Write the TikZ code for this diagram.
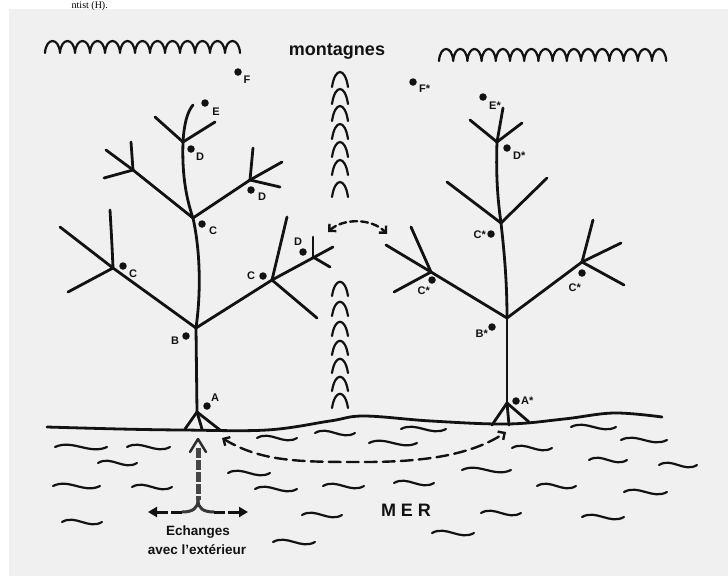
\documentclass[tikz,border=0pt]{standalone}
\usepackage{fontspec}
\setmainfont{Liberation Serif}
\setsansfont{Liberation Sans}
\usetikzlibrary{arrows.meta}
\definecolor{paper}{RGB}{240,240,240}
\definecolor{ink}{RGB}{18,18,18}
\tikzset{
  br/.style={ink, line width=2.8pt, line cap=round, line join=round},
  wav/.style={ink, line width=2.2pt, line cap=round},
  mtn/.style={ink, line width=2.2pt, line cap=round, line join=round},
  pt/.style={circle, fill=ink, inner sep=0pt, minimum size=7.5pt},
  lab/.style={ink, font=\sffamily\bfseries\fontsize{11}{12}\selectfont, inner sep=0pt},
  big/.style={ink, font=\sffamily\bfseries\fontsize{13.5}{15}\selectfont, inner sep=0pt},
  dasharrow/.style={ink, line width=2.4pt, line cap=round,
     {Straight Barb[length=5pt,width=10pt,line width=2.4pt]}-{Straight Barb[length=5pt,width=10pt,line width=2.4pt]}}
}
\begin{document}
\begin{tikzpicture}[x=1pt,y=-1pt]
\useasboundingbox (0,0) rectangle (728,576);
\clip (0,0) rectangle (728,576);
\fill[white] (0,0) rectangle (728,576);
\fill[paper] (9,9) rectangle (728,576);
\node[anchor=base east, font=\fontsize{10}{11}\selectfont, inner sep=0pt] (cut) at (108,8.5) {ntist (H).};

% mountain ranges
\draw[mtn] (45,53) \foreach \i in {1,...,13}{ .. controls +(1,-16) and +(-1,-16) .. ++(15,0)};
\draw[mtn] (439,61) \foreach \i in {1,...,16}{ .. controls +(1,-16) and +(-1,-16) .. ++(14.2,0)};
\node[ink, font=\sffamily\bfseries\fontsize{18}{20}\selectfont, inner sep=0pt] (mont) at (337,52) {montagnes};
\foreach \t in {70,87,104,122,140,158,180}
  \draw[mtn] (332,\t+17) .. controls (335,\t-3) and (345,\t-3) .. (348,\t+17);
\foreach \t in {280,300,320,339,357,375,392}
  \draw[mtn] (332,\t+16) .. controls (335,\t-3) and (345,\t-3) .. (348,\t+16);

% ground
\draw[br] plot[smooth, tension=0.6] coordinates {(47,427) (120,429) (183,430) (267,430) (330,421) (364,416) (431,421) (507,424) (564,419) (614,413) (662,417)};

% sea waves
\foreach \a/\b/\y in {55/107/447, 127/170/447, 98/137/463, 53/100/486, 132/172/487, 62/102/522,
  257/297/438, 315/355/433, 228/270/473, 255/297/489, 323/364/486, 302/342/515, 273/315/542,
  401/446/429, 369/417/443, 512/552/448, 571/616/427, 621/667/440, 589/627/460, 659/697/465,
  462/511/470, 394/434/483, 537/576/486, 624/667/492, 481/521/513, 582/624/517, 432/474/533}
  \draw[wav] (\a,\y) .. controls +({(\b-\a)/3},-8) and +({-(\b-\a)/3},8) .. (\b,\y);

% left tree
\draw[br] (197,412) -- (185,429);
\draw[br] (197,412) -- (202,429);
\draw[br] (197,412) -- (220,430);
\draw[br] (197,412) -- (196,328);
\draw[br] (196,328) .. controls (202,285) and (199,245) .. (193,218);
\draw[br] (193,218) .. controls (185,195) and (182,170) .. (183,142);
\draw[br] (183,142) .. controls (184,125) and (187,112) .. (193,105);
\draw[br] (183,142) -- (155,117);
\draw[br] (183,142) -- (215,122);
\draw[br] (196,328) -- (113,268);
\draw[br] (113,268) -- (60,227);
\draw[br] (113,268) .. controls (112,245) .. (110,210);
\draw[br] (113,268) -- (68,292);
\draw[br] (196,328) -- (272,280);
\draw[br] (272,280) -- (287,217);
\draw[br] (272,280) -- (317,318);
\draw[br] (272,280) -- (333,247);
\draw[br] (313,257) -- (313,237);
\draw[br] (313,257) -- (330,267);
\draw[br] (193,218) -- (133,170);
\draw[br] (133,170) -- (106,150);
\draw[br] (133,170) -- (131,142);
\draw[br] (133,170) -- (104,178);
\draw[br] (193,218) -- (250,180);
\draw[br] (250,180) -- (253,148);
\draw[br] (250,180) -- (282,162);
\draw[br] (250,180) -- (280,187);

% right tree
\draw[br] (507,403) -- (492,425);
\draw[br] (507,403) -- (509,425);
\draw[br] (507,403) -- (529,422);
\draw[br] (507,403) -- (507,318);
\draw[br] (507,318) .. controls (507,280) and (504,250) .. (501,223);
\draw[br] (501,223) .. controls (497,195) and (496,170) .. (497,142);
\draw[br] (497,142) -- (503,108);
\draw[br] (497,142) -- (470,120);
\draw[br] (497,142) -- (522,123);
\draw[br] (501,223) -- (447,182);
\draw[br] (501,223) -- (547,178);
\draw[br] (507,318) -- (431,272);
\draw[br] (431,272) -- (386,245);
\draw[br] (431,272) -- (411,227);
\draw[br] (431,272) -- (394,292);
\draw[br] (507,318) -- (582,262);
\draw[br] (582,262) -- (593,220);
\draw[br] (582,262) -- (621,243);
\draw[br] (582,262) -- (624,285);

% left labels
\node[pt] (pF) at (238,72) {};   \node[lab] (lF) at (247,80) {F};
\node[pt] (pE) at (205,103) {};  \node[lab] (lE) at (216,112) {E};
\node[pt] (pD1) at (191,149) {}; \node[lab] (lD1) at (200,157) {D};
\node[pt] (pD2) at (251,190) {}; \node[lab] (lD2) at (262,197) {D};
\node[pt] (pC1) at (202,224) {}; \node[lab] (lC1) at (213,231) {C};
\node[pt] (pC2) at (123,266) {}; \node[lab] (lC2) at (133,274) {C};
\node[pt] (pC3) at (263,276) {}; \node[lab] (lC3) at (251,276) {C};
\node[pt] (pD3) at (303,252) {}; \node[lab] (lD3) at (298,242) {D};
\node[pt] (pB) at (186,336) {};  \node[lab] (lB) at (175,341) {B};
\node[pt] (pA) at (207,406) {};  \node[lab] (lA) at (215,398) {A};

% right labels
\node[pt] (qF) at (413,82) {};   \node[lab, anchor=west] (mF) at (419,89) {F*};
\node[pt] (qE) at (483,97) {};   \node[lab, anchor=west] (mE) at (489,106) {E*};
\node[pt] (qD) at (507,148) {};  \node[lab, anchor=west] (mD) at (513,156) {D*};
\node[pt] (qC1) at (491,234) {}; \node[lab, anchor=east] (mC1) at (486,235) {C*};
\node[pt] (qC2) at (432,280) {}; \node[lab, anchor=east] (mC2) at (430,291) {C*};
\node[pt] (qC3) at (582,273) {}; \node[lab, anchor=east] (mC3) at (581,288) {C*};
\node[pt] (qB) at (492,327) {};  \node[lab, anchor=east] (mB) at (488,334) {B*};
\node[pt] (qA) at (516,401) {};  \node[lab, anchor=west] (mA) at (521,401) {A*};

% central double arrow
\coordinate (midL) at (328,232);
\coordinate (midR) at (387,234);
\draw[dasharrow, dash pattern=on 7pt off 4pt] (midL) .. controls (343,218) and (372,218) .. (midR);

% long dashed arrow in the sea
\coordinate (bigL) at (222,438);
\coordinate (bigR) at (506,432);
\draw[dasharrow, dash pattern=on 12pt off 6pt] (bigL) .. controls (262,462) and (300,462) .. (364,462) .. controls (420,462) and (470,456) .. (bigR);

% exchanges with outside
\coordinate (vtip) at (198,439);
\coordinate (vbot) at (198,500);
\coordinate (hL) at (148,512);
\coordinate (hR) at (248,512);
\draw[line width=5pt, gray!55!black, dash pattern=on 10pt off 2pt] (198,448) -- (vbot);
\draw[line width=2.5pt, gray!35!black, line cap=round, line join=round] (190,452) -- (vtip) -- (206,452);
\draw[line width=3pt, gray!45!black] (vbot) .. controls (198,508) and (193,512) .. (182,512);
\draw[line width=3pt, gray!45!black] (vbot) .. controls (198,508) and (203,512) .. (214,512);
\draw[ink, line width=3pt, dash pattern=on 11pt off 3pt, -{Triangle[length=9pt,width=10pt]}] (182,512) -- (hL);
\draw[ink, line width=3pt, dash pattern=on 11pt off 3pt, -{Triangle[length=9pt,width=10pt]}] (214,512) -- (hR);
\node[big] (ech) at (198,532) {Echanges};
\node[big] (ext) at (197,550) {avec l'extérieur};
\node[ink, font=\sffamily\bfseries\fontsize{18}{20}\selectfont, inner sep=0pt] (mer) at (406,510) {M E R};
\end{tikzpicture}
\end{document}
